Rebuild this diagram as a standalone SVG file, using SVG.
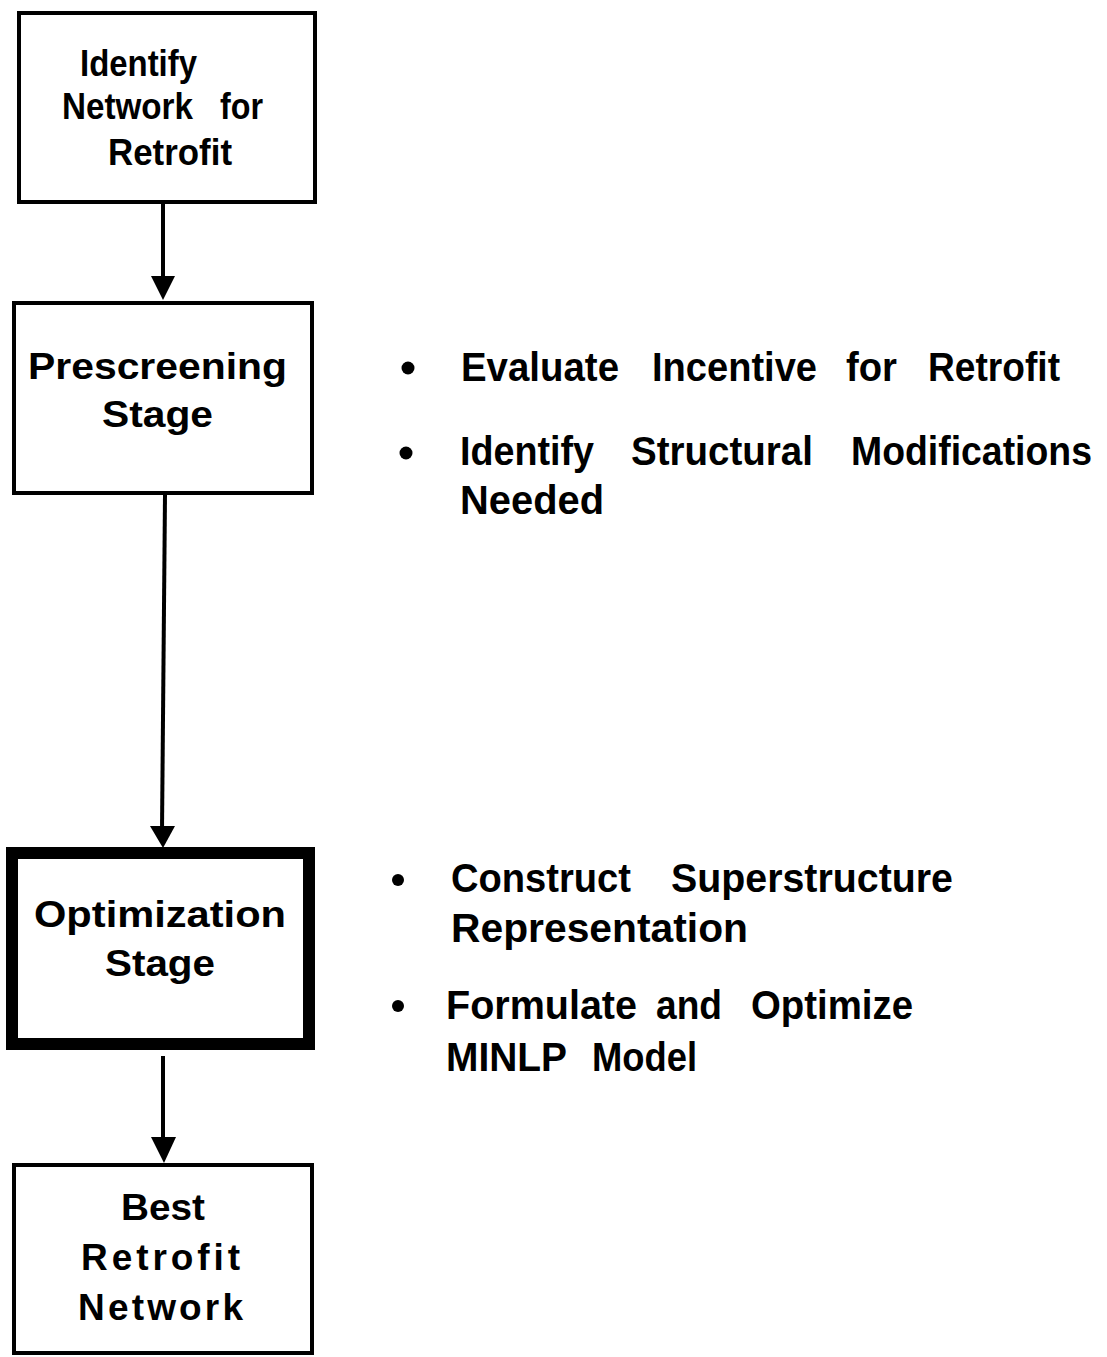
<svg xmlns="http://www.w3.org/2000/svg" width="1107" height="1357" viewBox="0 0 1107 1357">
  <style>
    .box { fill: #ffffff; stroke: #000000; stroke-width: 4; }
    .box.heavy { stroke-width: 12; }
    .label { font-family: "Liberation Sans", Arial, sans-serif; font-weight: bold; font-size: 37px; fill: #000000; }
    .note { font-family: "Liberation Sans", Arial, sans-serif; font-weight: bold; font-size: 40px; fill: #000000; }
    .wire { stroke: #000000; stroke-width: 4; fill: none; }
    .head { fill: #000000; }
    .dot { fill: #000000; }
  </style>
  <rect width="1107" height="1357" fill="#ffffff"/>

  <!-- flow connectors -->
  <g id="connectors">
    <line class="wire" x1="163" y1="203" x2="163" y2="280"/>
    <polygon class="head" points="151,276 175,276 163,300"/>
    <line class="wire" x1="165" y1="495" x2="162" y2="830"/>
    <polygon class="head" points="150,826 175,826 163,848"/>
    <line class="wire" x1="163" y1="1056" x2="163" y2="1142"/>
    <polygon class="head" points="151,1137 176,1137 164,1163"/>
  </g>

  <g id="node-identify">
    <rect class="box" x="19" y="13" width="296" height="189"/>
    <text class="label" font-size="35"><tspan x="80" y="76" textLength="117" lengthAdjust="spacingAndGlyphs">Identify</tspan></text>
    <text class="label" font-size="35"><tspan x="62" y="119" textLength="131" lengthAdjust="spacingAndGlyphs">Network</tspan><tspan x="220" y="119" textLength="43" lengthAdjust="spacingAndGlyphs">for</tspan></text>
    <text class="label" font-size="35"><tspan x="108" y="165" textLength="124" lengthAdjust="spacingAndGlyphs">Retrofit</tspan></text>
  </g>

  <g id="node-prescreening">
    <rect class="box" x="14" y="303" width="298" height="190"/>
    <text class="label"><tspan x="28" y="379" textLength="259" lengthAdjust="spacingAndGlyphs">Prescreening</tspan></text>
    <text class="label"><tspan x="102" y="427" textLength="111" lengthAdjust="spacingAndGlyphs">Stage</tspan></text>
  </g>

  <g id="node-optimization">
    <rect class="box heavy" x="12" y="853" width="297" height="191"/>
    <text class="label"><tspan x="34" y="927" textLength="252" lengthAdjust="spacingAndGlyphs">Optimization</tspan></text>
    <text class="label"><tspan x="105" y="976" textLength="110" lengthAdjust="spacingAndGlyphs">Stage</tspan></text>
  </g>

  <g id="node-best">
    <rect class="box" x="14" y="1165" width="298" height="188"/>
    <text class="label"><tspan x="121" y="1220" textLength="84" lengthAdjust="spacingAndGlyphs">Best</tspan></text>
    <text class="label"><tspan x="81" y="1270" textLength="159" lengthAdjust="spacing">Retrofit</tspan></text>
    <text class="label"><tspan x="78" y="1320" textLength="165" lengthAdjust="spacing">Network</tspan></text>
  </g>

  <!-- notes beside the prescreening stage -->
  <g id="notes-prescreening">
    <circle class="dot" cx="408" cy="368" r="6.5"/>
    <text class="note"><tspan x="461" y="381" textLength="158" lengthAdjust="spacingAndGlyphs">Evaluate</tspan><tspan x="652" y="381" textLength="165" lengthAdjust="spacingAndGlyphs">Incentive</tspan><tspan x="846" y="381" textLength="51" lengthAdjust="spacingAndGlyphs">for</tspan><tspan x="928" y="381" textLength="132" lengthAdjust="spacingAndGlyphs">Retrofit</tspan></text>
    <circle class="dot" cx="406" cy="453" r="6.5"/>
    <text class="note"><tspan x="460" y="465" textLength="134" lengthAdjust="spacingAndGlyphs">Identify</tspan><tspan x="631" y="465" textLength="182" lengthAdjust="spacingAndGlyphs">Structural</tspan><tspan x="851" y="465" textLength="241" lengthAdjust="spacingAndGlyphs">Modifications</tspan></text>
    <text class="note"><tspan x="460" y="514" textLength="144" lengthAdjust="spacingAndGlyphs">Needed</tspan></text>
  </g>

  <!-- notes beside the optimization stage -->
  <g id="notes-optimization">
    <circle class="dot" cx="398" cy="880" r="6"/>
    <text class="note"><tspan x="451" y="892" textLength="180" lengthAdjust="spacingAndGlyphs">Construct</tspan><tspan x="671" y="892" textLength="282" lengthAdjust="spacingAndGlyphs">Superstructure</tspan></text>
    <text class="note"><tspan x="451" y="942" textLength="297" lengthAdjust="spacingAndGlyphs">Representation</tspan></text>
    <circle class="dot" cx="398" cy="1006" r="6"/>
    <text class="note"><tspan x="446" y="1019" textLength="191" lengthAdjust="spacingAndGlyphs">Formulate</tspan><tspan x="656" y="1019" textLength="66" lengthAdjust="spacingAndGlyphs">and</tspan><tspan x="751" y="1019" textLength="162" lengthAdjust="spacingAndGlyphs">Optimize</tspan></text>
    <text class="note"><tspan x="446" y="1071" textLength="121" lengthAdjust="spacingAndGlyphs">MINLP</tspan><tspan x="592" y="1071" textLength="105" lengthAdjust="spacingAndGlyphs">Model</tspan></text>
  </g>
</svg>
